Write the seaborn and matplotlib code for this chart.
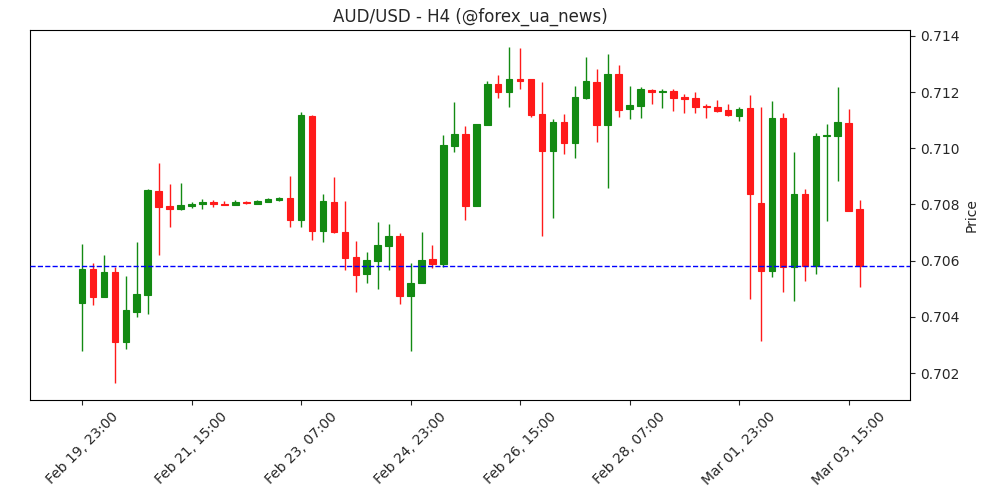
import numpy as np
import pandas as pd
import seaborn as sns
import matplotlib
matplotlib.use("Agg")
import matplotlib.pyplot as plt

# AUD/USD H4 candles
start = "2021-02-19 23:00"
opens = [0.70450, 0.70570, 0.70472, 0.70560, 0.70312, 0.70418, 0.70479, 0.70848, 0.70795, 0.70785,
         0.70796, 0.70801, 0.70808, 0.70803, 0.70799, 0.70810, 0.70803, 0.70810, 0.70816, 0.70823,
         0.70746, 0.71115, 0.70707, 0.70809, 0.70702, 0.70613, 0.70554, 0.70600, 0.70653, 0.70688,
         0.70475, 0.70520, 0.70606, 0.70589, 0.71007, 0.71051, 0.70796, 0.71083, 0.71229, 0.71202,
         0.71247, 0.71247, 0.71122, 0.70992, 0.71094, 0.71020, 0.71180, 0.71236, 0.71084, 0.71265,
         0.71141, 0.71152, 0.71208, 0.71202, 0.71204, 0.71183, 0.71178, 0.71152, 0.71147, 0.71137,
         0.71116, 0.71144, 0.70805, 0.70564, 0.71108, 0.70579, 0.70837, 0.70582, 0.71042, 0.71042,
         0.71090, 0.70784]
highs = [0.70658, 0.70591, 0.70619, 0.70579, 0.70545, 0.70665, 0.70854, 0.70947, 0.70873, 0.70875,
         0.70810, 0.70820, 0.70816, 0.70811, 0.70816, 0.70812, 0.70815, 0.70823, 0.70827, 0.70902,
         0.71128, 0.71119, 0.70836, 0.70898, 0.70811, 0.70670, 0.70630, 0.70737, 0.70730, 0.70698,
         0.70591, 0.70701, 0.70655, 0.71046, 0.71164, 0.71079, 0.71087, 0.71240, 0.71261, 0.71360,
         0.71356, 0.71247, 0.71235, 0.71103, 0.71121, 0.71221, 0.71325, 0.71281, 0.71336, 0.71297,
         0.71221, 0.71218, 0.71211, 0.71211, 0.71211, 0.71194, 0.71200, 0.71158, 0.71171, 0.71158,
         0.71147, 0.71190, 0.71146, 0.71168, 0.71126, 0.70986, 0.70855, 0.71054, 0.71086, 0.71217,
         0.71139, 0.70816]
lows = [0.70277, 0.70441, 0.70470, 0.70163, 0.70287, 0.70401, 0.70409, 0.70619, 0.70719, 0.70779,
        0.70786, 0.70783, 0.70790, 0.70797, 0.70799, 0.70803, 0.70803, 0.70810, 0.70811, 0.70721,
        0.70721, 0.70675, 0.70665, 0.70700, 0.70567, 0.70487, 0.70520, 0.70498, 0.70566, 0.70445,
        0.70277, 0.70520, 0.70573, 0.70579, 0.70986, 0.70744, 0.70796, 0.71083, 0.71178, 0.71146,
        0.71210, 0.71111, 0.70687, 0.70751, 0.70979, 0.70965, 0.71175, 0.71024, 0.70858, 0.71113,
        0.71103, 0.71106, 0.71157, 0.71143, 0.71132, 0.71125, 0.71125, 0.71107, 0.71129, 0.71116,
        0.71096, 0.70463, 0.70313, 0.70543, 0.70487, 0.70456, 0.70527, 0.70552, 0.70742, 0.70883,
        0.70778, 0.70507]
closes = [0.70570, 0.70472, 0.70560, 0.70312, 0.70424, 0.70481, 0.70852, 0.70792, 0.70785, 0.70798,
          0.70803, 0.70810, 0.70801, 0.70799, 0.70809, 0.70805, 0.70813, 0.70820, 0.70824, 0.70746,
          0.71119, 0.70707, 0.70813, 0.70703, 0.70611, 0.70550, 0.70602, 0.70656, 0.70688, 0.70475,
          0.70521, 0.70602, 0.70589, 0.71012, 0.71051, 0.70796, 0.71087, 0.71229, 0.71202, 0.71247,
          0.71241, 0.71120, 0.70992, 0.71094, 0.71020, 0.71183, 0.71240, 0.71084, 0.71265, 0.71138,
          0.71154, 0.71211, 0.71201, 0.71205, 0.71180, 0.71176, 0.71148, 0.71147, 0.71134, 0.71120,
          0.71140, 0.70839, 0.70564, 0.71108, 0.70579, 0.70837, 0.70582, 0.71044, 0.71047, 0.71094,
          0.70778, 0.70580]

df = pd.DataFrame({"open": opens, "high": highs, "low": lows, "close": closes})
df["date"] = pd.date_range(start, periods=len(df), freq="4h")
df["x"] = np.arange(len(df))
df["up"] = df["close"] >= df["open"]

up_col = "#138a13"
down_col = "#ff1a1a"

sns.set_style("ticks")
fig = plt.figure(figsize=(10, 5), dpi=100)
ax = fig.add_axes([0.03, 0.2, 0.88, 0.74])

colors = np.where(df["up"], up_col, down_col)
ax.vlines(df["x"], df["low"], df["high"], colors=colors, linewidth=1, zorder=2)
body_bottom = df[["open", "close"]].min(axis=1)
body_height = (df["close"] - df["open"]).abs().clip(lower=0.00003)
ax.bar(df["x"], body_height, bottom=body_bottom, width=0.6, color=colors,
       edgecolor=colors, linewidth=0.8, zorder=3)

ax.axhline(df["close"].iloc[-1], color="blue", linestyle="--", linewidth=1, zorder=4)

ticks = df["x"][::10]
ax.set_xticks(ticks)
ax.set_xticklabels(df["date"][::10].dt.strftime("%b %d, %H:%M"), rotation=45)
ax.set_xlim(-4.75, 75.6)
ax.set_ylim(0.70104, 0.71421)
ax.set_yticks([0.702, 0.704, 0.706, 0.708, 0.710, 0.712, 0.714])
ax.yaxis.set_major_formatter(matplotlib.ticker.FormatStrFormatter("%.3f"))
ax.yaxis.tick_right()
ax.yaxis.set_label_position("right")
ax.set_ylabel("Price")
ax.set_title("AUD/USD - H4 (@forex_ua_news)")
for s in ax.spines.values():
    s.set_visible(True)
    s.set_color("black")

fig.savefig("out.png", dpi=100)
